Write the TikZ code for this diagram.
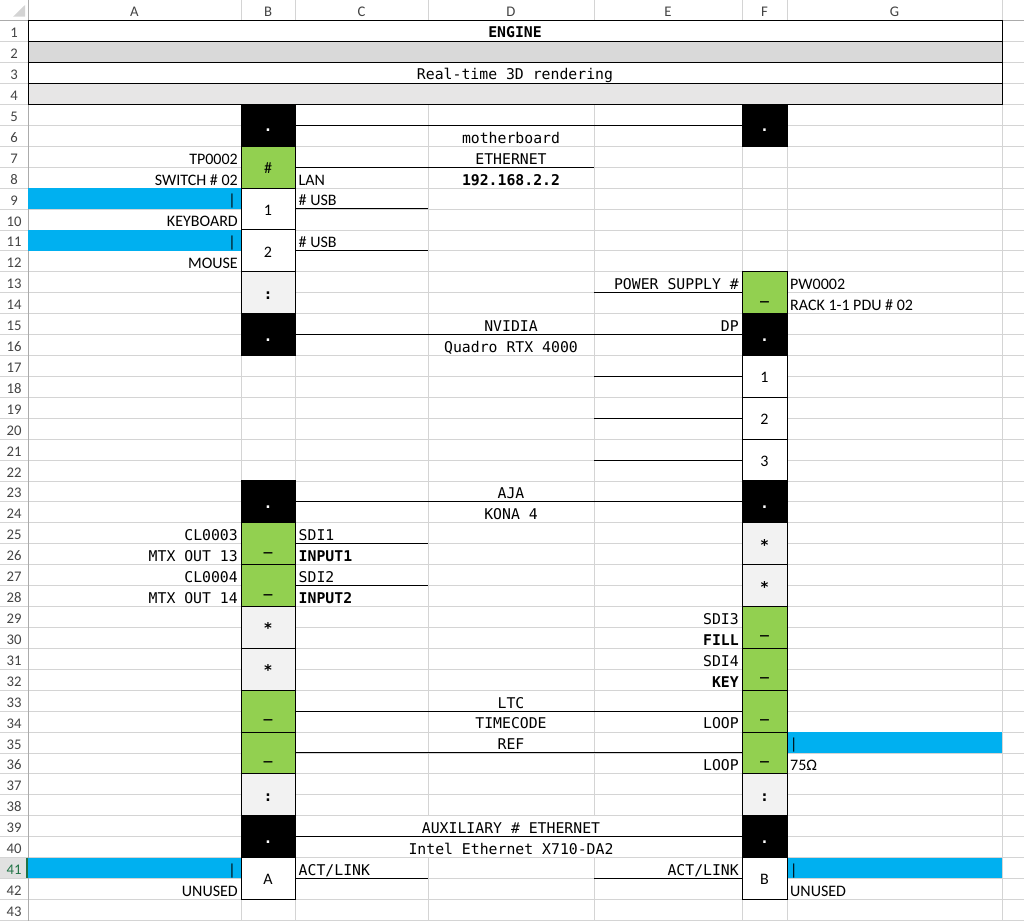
\documentclass[tikz,border=0pt]{standalone}
\usepackage{fontspec}
\usetikzlibrary{positioning}
\newfontfamily\calfont{Carlito}
\newfontfamily\monofont{DejaVu Sans Mono}
\newcommand{\cellsans}{\calfont\fontsize{16}{19}\selectfont}
\newcommand{\cellmono}{\monofont\fontsize{14.8}{18}\selectfont}
\newcommand{\hdrsans}{\calfont\fontsize{14.7}{17}\selectfont}
\definecolor{gridgray}{HTML}{D4D4D4}
\definecolor{hdrgray}{HTML}{ABABAB}
\definecolor{hdrtext}{HTML}{444444}
\definecolor{okgreen}{HTML}{92D050}
\definecolor{sparegray}{HTML}{F2F2F2}
\definecolor{selblue}{HTML}{00B0F0}
\definecolor{bandgray}{HTML}{D9D9D9}
\definecolor{bandlight}{HTML}{E7E6E6}
\definecolor{xlgreen}{HTML}{217346}
\definecolor{rowsel}{HTML}{E1E1E1}
\tikzset{
  cell/.style={draw=black, line width=1pt, inner sep=0pt, outer sep=0pt,
    minimum height=41.84pt, text height=15pt, text depth=2pt},
  colB/.style={cell, minimum width=54pt},
  colF/.style={cell, minimum width=45pt},
  dev/.style={fill=black, text=white, font=\cellmono\bfseries},
  port/.style={fill=white, font=\cellsans},
  live/.style={fill=okgreen, font=\cellmono\bfseries},
  spare/.style={fill=sparegray, font=\cellmono\bfseries},
  bar/.style={draw=black, line width=1pt, inner sep=0pt, minimum width=974pt,
    minimum height=20.92pt, text height=15pt, text depth=2pt, font=\cellmono},
  base/.style={inner sep=0pt, anchor=base},
  txt/.style={base, yshift=-2pt},
  lft/.style={txt, anchor=base west},
  rgt/.style={txt, anchor=base east},
  sans/.style={font=\cellsans},
  mono/.style={font=\cellmono},
  bmono/.style={font=\cellmono\bfseries},
  hdr/.style={base, yshift=-1pt, font=\hdrsans, text=hdrtext},
  gridline/.style={draw=gridgray, line width=0.8pt},
  wire/.style={draw=black, line width=1pt}
}
\begin{document}
\begin{tikzpicture}[x=1pt, y=-20.92pt, node distance=41.84pt, on grid]
  \useasboundingbox[fill=white] (0,-0.99) rectangle (1024,43.04);

  % sheet grid
  \foreach \r in {1,...,43}
    \draw[gridline] (0,\r) -- (1024,\r);
  \foreach \x in {241,295,428,594,742,787,1002}
    \draw[gridline] (\x,-0.99) -- (\x,43.04);
  \draw[draw=hdrgray, line width=0.8pt] (0,0) -- (1024,0) (28,-0.99) -- (28,43.04);
  \fill[gridgray] (13,-0.19) -- (25,-0.19) -- (25,-0.75) -- cycle;

  % headers
  \foreach \c/\x in {A/134.5, B/268, C/361.5, D/511, E/668, F/764.5, G/894.5}
    \node[hdr] (col\c) at (\x,-0.258) {\c};
  \foreach \r in {1,...,40,42,43}
    \node[hdr] (row\r) at (14,{\r-0.235}) {\r};
  \fill[rowsel] (0,40) rectangle (27,41);
  \draw[xlgreen, line width=2pt] (27,40) -- (27,41);
  \node[hdr, text=xlgreen] (row41) at (14,40.765) {41};

  % text spilling over C..E
  \fill[white] (296,38.03) rectangle (741,39.97);

  % selected cells
  \fill[selblue] (28.4,8) rectangle (241,9);
  \fill[selblue] (28.4,10) rectangle (241,11);
  \fill[selblue] (28.4,40) rectangle (241,41);
  \fill[selblue] (787,34) rectangle (1002,35);
  \fill[selblue] (787,40) rectangle (1002,41);

  % title bars
  \node[bar, fill=white, font=\cellmono\bfseries] (engine) at (515,0.5) {ENGINE};
  \node[bar, fill=bandgray] (band) at (515,1.5) {};
  \node[bar, fill=white] (role) at (515,2.5) {Real-time 3D rendering};
  \node[bar, fill=bandlight] (foot) at (515,3.5) {};

  % column B
  \node[colB, dev] (b5) at (268,5) {.};
  \node[colB, fill=okgreen, font=\cellsans] (b7) [below=of b5] {\#};
  \node[colB, port] (b9) [below=of b7] {1};
  \node[colB, port] (b11) [below=of b9] {2};
  \node[colB, spare] (b13) [below=of b11] {:};
  \node[colB, dev] (b15) [below=of b13] {.};
  \node[colB, dev] (b23) at (268,23) {.};
  \node[colB, live] (b25) [below=of b23] {\_};
  \node[colB, live] (b27) [below=of b25] {\_};
  \node[colB, spare] (b29) [below=of b27] {*};
  \node[colB, spare] (b31) [below=of b29] {*};
  \node[colB, live] (b33) [below=of b31] {\_};
  \node[colB, live] (b35) [below=of b33] {\_};
  \node[colB, spare] (b37) [below=of b35] {:};
  \node[colB, dev] (b39) [below=of b37] {.};
  \node[colB, port] (b41) [below=of b39] {A};

  % column F
  \node[colF, dev] (f5) at (764.5,5) {.};
  \node[colF, live] (f13) at (764.5,13) {\_};
  \node[colF, dev] (f15) [below=of f13] {.};
  \node[colF, port] (f17) [below=of f15] {1};
  \node[colF, port] (f19) [below=of f17] {2};
  \node[colF, port] (f21) [below=of f19] {3};
  \node[colF, dev] (f23) [below=of f21] {.};
  \node[colF, spare] (f25) [below=of f23] {*};
  \node[colF, spare] (f27) [below=of f25] {*};
  \node[colF, live] (f29) [below=of f27] {\_};
  \node[colF, live] (f31) [below=of f29] {\_};
  \node[colF, live] (f33) [below=of f31] {\_};
  \node[colF, live] (f35) [below=of f33] {\_};
  \node[colF, spare] (f37) [below=of f35] {:};
  \node[colF, dev] (f39) [below=of f37] {.};
  \node[colF, port] (f41) [below=of f39] {B};

  % loose cable ends
  \coordinate (eth) at (594,7);
  \coordinate (usb1) at (428,9);
  \coordinate (usb2) at (428,11);
  \coordinate (psu) at (594,13);
  \coordinate (dp1) at (594,17);
  \coordinate (dp2) at (594,19);
  \coordinate (dp3) at (594,21);
  \coordinate (sdi1) at (428,25);
  \coordinate (sdi2) at (428,27);
  \coordinate (linka) at (428,41);
  \coordinate (linkb) at (594,41);

  \path[wire]
    (b5.east) edge (f5.west)
    (b7.east) edge (eth)
    (b9.east) edge (usb1)
    (b11.east) edge (usb2)
    (f13.west) edge (psu)
    (b15.east) edge (f15.west)
    (f17.west) edge (dp1)
    (f19.west) edge (dp2)
    (f21.west) edge (dp3)
    (b23.east) edge (f23.west)
    (b25.east) edge (sdi1)
    (b27.east) edge (sdi2)
    (b33.east) edge (f33.west)
    (b35.east) edge (f35.west)
    (b39.east) edge (f39.west)
    (b41.east) edge (linka)
    (f41.west) edge (linkb);

  % column A
  \node[rgt, sans] (tp) at (238,6.76) {TP0002};
  \node[rgt, sans] (sw) at (238,7.76) {SWITCH \# 02};
  \node[rgt, sans] (kbdbar) at (236,8.76) {|};
  \node[rgt, sans] (kbd) at (238,9.76) {KEYBOARD};
  \node[rgt, sans] (msbar) at (236,10.76) {|};
  \node[rgt, sans] (ms) at (238,11.76) {MOUSE};
  \node[rgt, mono] (cl3) at (238,24.76) {CL0003};
  \node[rgt, mono] (mtx13) at (238,25.76) {MTX OUT 13};
  \node[rgt, mono] (cl4) at (238,26.76) {CL0004};
  \node[rgt, mono] (mtx14) at (238,27.76) {MTX OUT 14};
  \node[rgt, sans] (abar) at (236,40.76) {|};
  \node[rgt, sans] (aunused) at (238,41.76) {UNUSED};

  % column C
  \node[lft, sans] (lan) at (298.5,7.76) {LAN};
  \node[lft, sans] (usbl1) at (298.5,8.76) {\# USB};
  \node[lft, sans] (usbl2) at (298.5,10.76) {\# USB};
  \node[lft, mono] (sdil1) at (298.5,24.76) {SDI1};
  \node[lft, bmono] (in1) at (298.5,25.76) {INPUT1};
  \node[lft, mono] (sdil2) at (298.5,26.76) {SDI2};
  \node[lft, bmono] (in2) at (298.5,27.76) {INPUT2};
  \node[lft, mono] (acta) at (298.5,40.76) {ACT/LINK};

  % column D
  \node[txt, mono] (mb) at (511,5.76) {motherboard};
  \node[txt, mono] (ethl) at (511,6.76) {ETHERNET};
  \node[txt, bmono] (ip) at (511,7.76) {192.168.2.2};
  \node[txt, mono] (gpu) at (511,14.76) {NVIDIA};
  \node[txt, mono] (gpum) at (511,15.76) {Quadro RTX 4000};
  \node[txt, mono] (aja) at (511,22.76) {AJA};
  \node[txt, mono] (kona) at (511,23.76) {KONA 4};
  \node[txt, mono] (ltc) at (511,32.76) {LTC};
  \node[txt, mono] (tc) at (511,33.76) {TIMECODE};
  \node[txt, mono] (ref) at (511,34.76) {REF};
  \node[txt, mono] (aux) at (511,38.76) {AUXILIARY \# ETHERNET};
  \node[txt, mono] (nic) at (511,39.76) {Intel Ethernet X710-DA2};

  % column E
  \node[rgt, mono] (psul) at (739,12.76) {POWER SUPPLY \#};
  \node[rgt, mono] (dp) at (739,14.76) {DP};
  \node[rgt, mono] (sdi3) at (739,28.76) {SDI3};
  \node[rgt, bmono] (fill) at (739,29.76) {FILL};
  \node[rgt, mono] (sdi4) at (739,30.76) {SDI4};
  \node[rgt, bmono] (key) at (739,31.76) {KEY};
  \node[rgt, mono] (loop1) at (739,33.76) {LOOP};
  \node[rgt, mono] (loop2) at (739,35.76) {LOOP};
  \node[rgt, mono] (actb) at (739,40.76) {ACT/LINK};

  % column G
  \node[lft, sans] (pw) at (790,12.76) {PW0002};
  \node[lft, sans] (pdu) at (790,13.76) {RACK 1-1 PDU \# 02};
  \node[lft, sans] (refbar) at (790,34.76) {|};
  \node[lft, sans] (term) at (790,35.76) {75Ω};
  \node[lft, sans] (gbar) at (790,40.76) {|};
  \node[lft, sans] (gunused) at (790,41.76) {UNUSED};
\end{tikzpicture}
\end{document}
